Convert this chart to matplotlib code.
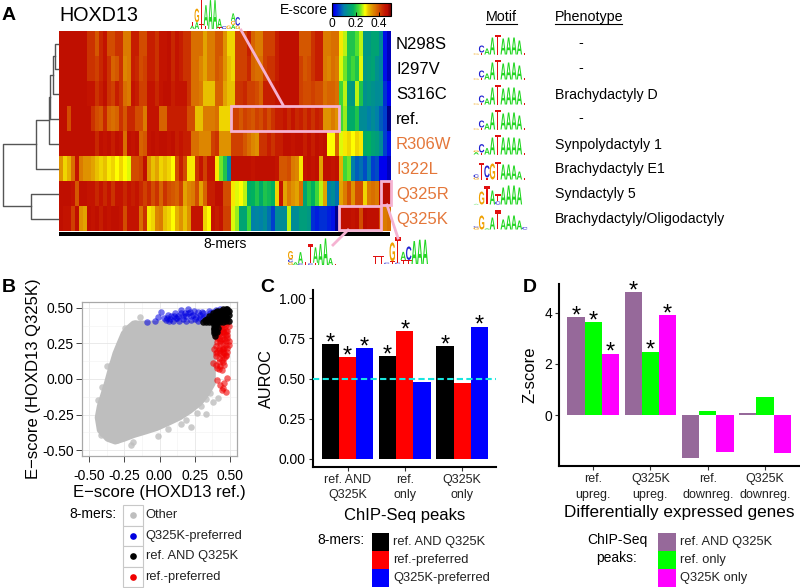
import numpy as np
import matplotlib
matplotlib.use('Agg')
import matplotlib.pyplot as plt
from matplotlib.colors import LinearSegmentedColormap
from matplotlib.patches import PathPatch, Rectangle
from matplotlib.path import Path
from matplotlib.textpath import TextPath
from matplotlib.font_manager import FontProperties
from matplotlib.transforms import Affine2D

plt.rcParams['font.family'] = ['Liberation Sans', 'DejaVu Sans']

W, H = 800, 588

# ---- panel A data: one list per variant, 83 binned 8-mer columns
row_names = ['N298S', 'I297V', 'S316C', 'ref.', 'R306W', 'I322L', 'Q325R', 'Q325K']
row_colors = ['black', 'black', 'black', 'black', '#e4773a', '#e4773a', '#e4773a', '#e4773a']
phenotypes = ['-', '-', 'Brachydactyly D', '-', 'Synpolydactyly 1', 'Brachydactyly E1',
              'Syndactyly 5', 'Brachydactyly/Oligodactyly']

n298s = [.46, .46, .46, .46, .46, .46, .46, .42, .42, .39,
         .43, .45, .40, .40, .42, .42, .36, .36, .44, .44,
         .40, .40, .44, .44, .42, .45, .45, .46, .43, .45,
         .44, .42, .42, .37, .37, .37, .33, .36, .36, .39,
         .39, .34, .30, .30, .41, .41, .41, .44, .38, .36,
         .36, .41, .41, .41, .44, .46, .46, .46, .46, .46,
         .39, .39, .39, .42, .44, .44, .36, .36, .37, .37,
         .29, .26, .20, .20, .23, .26, .14, .14, .16, .16,
         .12, .03, .01]
i297v = [.46, .46, .46, .46, .46, .46, .46, .42, .42, .41,
         .43, .45, .42, .38, .39, .42, .35, .36, .44, .43,
         .40, .41, .44, .44, .42, .45, .45, .46, .43, .45,
         .44, .42, .42, .37, .37, .35, .33, .36, .36, .39,
         .38, .34, .31, .30, .41, .41, .41, .43, .38, .37,
         .37, .41, .42, .42, .44, .46, .46, .46, .46, .46,
         .41, .39, .40, .42, .44, .44, .36, .35, .37, .36,
         .27, .24, .20, .22, .20, .27, .14, .15, .16, .13,
         .11, .03, .01]
s316c = [.46, .46, .46, .46, .46, .46, .46, .45, .45, .42,
         .44, .46, .42, .41, .44, .42, .37, .36, .45, .44,
         .41, .41, .45, .45, .43, .45, .46, .46, .44, .45,
         .45, .45, .42, .37, .37, .36, .31, .31, .31, .38,
         .38, .33, .31, .31, .42, .42, .43, .41, .41, .40,
         .38, .44, .44, .44, .45, .46, .46, .46, .46, .46,
         .41, .40, .40, .41, .40, .40, .37, .38, .38, .37,
         .22, .26, .15, .14, .26, .20, .13, .14, .13, .12,
         .12, .05, .02]
ref = [.46, .46, .40, .46, .46, .46, .46, .46, .42, .40,
       .39, .43, .38, .37, .38, .42, .39, .43, .43, .40,
       .40, .36, .45, .45, .45, .38, .38, .44, .44, .44,
       .44, .44, .40, .40, .31, .31, .36, .36, .36, .37,
       .30, .30, .30, .41, .41, .39, .41, .40, .39, .41,
       .40, .42, .40, .42, .44, .44, .45, .43, .45, .43,
       .44, .42, .44, .42, .44, .43, .34, .34, .36, .34,
       .22, .25, .17, .17, .20, .12, .12, .10, .12, .10,
       .08, .06, .00]
r306w = [.46, .46, .46, .46, .46, .46, .46, .46, .46, .43,
         .46, .45, .46, .44, .46, .45, .37, .46, .45, .46,
         .38, .39, .45, .46, .45, .46, .46, .45, .46, .44,
         .45, .44, .44, .37, .37, .35, .35, .35, .41, .42,
         .34, .34, .34, .41, .41, .41, .39, .37, .35, .34,
         .42, .42, .44, .42, .44, .44, .46, .46, .45, .46,
         .46, .44, .46, .44, .46, .45, .46, .28, .28, .38,
         .27, .29, .30, .28, .30, .29, .17, .18, .16, .15,
         .12, .06, .03]
i322l = [.34, .30, .32, .37, .45, .36, .34, .34, .33, .31,
         .30, .31, .29, .30, .28, .30, .28, .27, .40, .40,
         .41, .46, .34, .31, .33, .30, .31, .30, .28, .40,
         .44, .40, .29, .29, .42, .45, .41, .45, .45, .29,
         .24, .20, .10, .46, .46, .46, .46, .46, .45, .46,
         .46, .46, .46, .46, .45, .39, .39, .40, .36, .35,
         .29, .45, .46, .45, .46, .33, .46, .46, .45, .46,
         .32, .22, .24, .10, .08, .09, .07, .10, .06, .07,
         .02, .02, .01]
q325r = [.46, .46, .46, .45, .39, .46, .46, .45, .45, .43,
         .45, .43, .45, .42, .45, .45, .43, .45, .44, .45,
         .43, .41, .43, .40, .42, .38, .42, .40, .39, .38,
         .41, .33, .35, .36, .40, .33, .38, .44, .44, .46,
         .46, .40, .40, .29, .27, .28, .26, .17, .18, .20,
         .17, .20, .19, .18, .30, .45, .33, .36, .34, .33,
         .37, .16, .20, .18, .22, .26, .33, .10, .12, .09,
         .33, .36, .40, .34, .40, .40, .30, .36, .37, .36,
         .47, .47, .47]
q325k = [.46, .45, .45, .41, .46, .34, .33, .46, .45, .46,
         .44, .46, .45, .46, .46, .45, .40, .45, .45, .45,
         .37, .42, .29, .30, .35, .36, .31, .30, .28, .32,
         .34, .31, .34, .45, .45, .45, .30, .28, .45, .44,
         .45, .41, .41, .27, .25, .16, .16, .22, .10, .11,
         .10, .12, .09, .06, .12, .12, .12, .26, .12, .12,
         .15, .15, .14, .05, .04, .05, .05, .04, .03, .00,
         .46, .46, .46, .45, .46, .40, .47, .46, .46, .46,
         .40, .36, .37]
cbar_ticks = [0, 0.2, 0.4]
cbar_labels = ['0', '0.2', '0.4']

# dendrogram merges: (merge position in px, child, child)
# child >= 0 is a row, child < 0 is an earlier merge (-1 is the first one)
dendro_links = [(55, 0, 1), (53, -1, 2), (50, -2, 3), (49, -3, 4), (36, -4, 5), (31, 6, 7), (3, -5, -6)]

# logos: columns of (letter, height), bottom to top
L_WT = [[('G', .05)], [('T', .1), ('C', .35)], [('A', .3)], [('A', .85)], [('T', .25), ('T', .75)],
        [('A', .8)], [('A', .85)], [('A', .85)], [('A', .7)], [('T', .08)]]
L_R306W = [[('A', .12), ('G', .08)], [('T', .1), ('C', .42)], [('A', .32)], [('A', .85)], [('T', .25), ('T', .75)],
           [('A', .85)], [('A', .85)], [('A', .85)], [('A', .8)], [('T', .06)]]
L_I322L = [[('G', .1), ('C', .15)], [('T', .85)], [('T', .1), ('C', .6)], [('G', .8)], [('T', .9)],
           [('A', .75)], [('A', .75)], [('A', .7)], [('A', .4)], [('T', .06)]]
L_Q325R = [[('A', .03)], [('G', .65)], [('T', .9)], [('A', .7)], [('C', .15), ('T', .35)],
           [('A', .85)], [('A', .95)], [('A', .95)], [('A', .85)], [('T', .02)]]
L_Q325K = [[('G', .1), ('C', .06)], [('G', .7)], [('A', .06)], [('A', .6)], [('T', .95)],
           [('A', .5)], [('A', .7)], [('A', .7)], [('A', .45)], [('C', .12)]]
motif_logos = [L_WT, L_WT, L_WT, L_WT, L_R306W, L_I322L, L_Q325R, L_Q325K]

L_TOP = [[('A', .1), ('T', .12)], [('A', .2), ('G', .4)], [('T', .15), ('T', .85)], [('T', .1), ('A', .6)],
         [('A', .85)], [('A', .85)], [('T', .05), ('A', .25)], [('C', .08)], [('G', .1)],
         [('A', .12), ('G', .12), ('A', .22)], [('G', .1), ('C', .25)]]
L_BOT1 = [[('G', .1), ('C', .1), ('G', .3)], [('A', .1)], [('C', .06), ('A', .4)], [('T', .12)], [('C', .06), ('T', .7)],
          [('T', .08), ('A', .55)], [('A', .75)], [('A', .95)], [('A', .25)], [('T', .05)]]
L_BOT2 = [[('T', .3)], [('T', .3)], [('C', .05)], [('T', .1), ('G', .7)], [('C', .05), ('T', .95)],
          [('T', .15), ('A', .3)], [('T', .15), ('C', .5)], [('A', .85)], [('A', .9)], [('A', .9)]]

# ---- panel B data
cloud_x = [-.185, -.10, .10, .38, .38, .38, .34, .286, .215, .145, .06, -.02, -.10, -.185, -.25, -.314, -.37,
           -.425, -.44, -.425, -.40, -.375, -.35, -.314, -.285, -.255, -.22]
cloud_y = [.39, .39, .39, .39, .085, -.03, -.10, -.17, -.225, -.27, -.31, -.345, -.37, -.395, -.42, -.44, -.42,
           -.36, -.27, -.19, -.11, -.03, .06, .18, .25, .32, .36]
other_x = [-.373, -.408, -.436, -.42, -.413, -.244, -.173, -.138, -.204, -.189, -.008, .227, .333, .267,
           .298, .38, .415, .156, -.29, -.26, -.361, -.302, -.39, -.345, -.41, -.19, -.10, .06, .19, .33, .36]
other_y = [.092, -.055, -.144, -.231, -.395, .355, .39, .437, -.465, -.441, -.402, -.336, -.242, -.238,
           -.191, -.16, -.13, -.313, .238, .238, .015, -.43, -.30, .10, -.38, .37, .385, -.35, -.29, -.14, -.10]
blue_x = [-.088, -.032, .008, -.013, .044, .074, .098, .121, .062, .109, .156, .18, .215, .262, .227, .286,
          .333, .38, .404, .427, .309, .204, .05, .085, .13, .15, .17, .19, .24, .25, .27, .30, .33, .14,
          .12, .165, .20, .225, .275, .35, .10, .03, .36, .245, .185, .07, .29, .31]
blue_y = [.40, .41, .472, .437, .413, .418, .406, .425, .448, .46, .484, .46, .472, .437, .413, .425, .413,
          .472, .484, .488, .46, .488, .43, .44, .44, .46, .42, .44, .45, .42, .47, .47, .44, .41, .43,
          .44, .465, .44, .41, .48, .44, .43, .46, .48, .41, .41, .45, .43]
black_x = [.31, .33, .35, .37, .39, .41, .43, .45, .47, .49, .32, .34, .36, .38, .40, .42, .44, .46, .48, .35,
           .37, .39, .41, .43, .45, .47, .49, .48, .46, .44, .42, .40, .39, .40, .39, .40, .41, .385, .395,
           .43, .45, .47, .38, .40, .42, .44, .46, .48, .41, .43, .45, .47, .49, .39, .415, .405, .385]
black_y = [.40, .40, .40, .40, .40, .40, .40, .40, .41, .41, .415, .42, .42, .42, .42, .42, .42, .42, .43, .44,
           .44, .44, .44, .44, .44, .44, .45, .49, .48, .48, .47, .47, .38, .37, .35, .34, .39, .32, .30,
           .46, .46, .46, .46, .46, .46, .46, .47, .47, .48, .48, .49, .49, .48, .36, .36, .33, .34]
red_x = [.44, .46, .48, .43, .45, .47, .42, .44, .46, .48, .41, .43, .45, .47, .40, .42, .44, .46, .48, .49,
         .41, .43, .45, .47, .40, .42, .44, .46, .48, .39, .41, .43, .45, .47, .40, .42, .44, .38, .40, .43,
         .45, .46, .42, .44, .47, .41, .43, .46, .48, .45, .44, .47, .43, .45, .47, .49, .42, .44, .46, .48,
         .41, .43, .45, .47, .49, .42, .44, .46, .40, .42, .48, .41, .46]
red_y = [.43, .42, .40, .40, .38, .38, .36, .35, .36, .34, .33, .32, .33, .31, .30, .29, .30, .28, .29, .24,
         .26, .25, .25, .24, .23, .22, .21, .22, .19, .21, .19, .18, .19, .17, .16, .15, .13, .11, .10, .09,
         .12, .15, .07, .06, .16, -.01, -.04, -.03, .01, -.06, -.08, -.09, .37, .34, .34, .37, .32, .28, .32,
         .31, .29, .27, .21, .27, .27, .20, .17, .18, .18, .12, .22, .08, .10]
b_ticks = [-.5, -.25, 0, .25, .5]
b_ticklabels = ['-0.50', '-0.25', '0.00', '0.25', '0.50']
b_legend_labels = ['Other', 'Q325K-preferred', 'ref. AND Q325K', 'ref.-preferred']
b_legend_colors = ['#bebebe', '#0000e0', 'black', '#f00000']

# ---- panel C data
c_groups = ['ref. AND\nQ325K', 'ref.\nonly', 'Q325K\nonly']
c_both = [.716, .64, .703]
c_ref = [.633, .797, .473]
c_q325k = [.69, .481, .824]
c_sig = [[1, 1, 1], [1, 1, 0], [1, 0, 1]]
c_labels = ['ref. AND Q325K', 'ref.-preferred', 'Q325K-preferred']
c_colors = ['black', '#ff0000', '#0000ff']

# ---- panel D data
d_groups = ['ref.\nupreg.', 'Q325K\nupreg.', 'ref.\ndownreg.', 'Q325K\ndownreg.']
d_both = [3.82, 4.81, -1.65, .08]
d_ref = [3.64, 2.48, .18, .71]
d_q325k = [2.40, 3.91, -1.43, -1.49]
d_sig = [[1, 1, 1], [1, 1, 1], [0, 0, 0], [0, 0, 0]]
d_labels = ['ref. AND Q325K', 'ref. only', 'Q325K only']
d_colors = ['#96699a', '#00ff00', '#ff00ff']

escore = LinearSegmentedColormap.from_list('escore', [
    (0.0, '#00008c'), (0.04, '#0000f0'), (0.2, '#0080a8'), (0.36, '#00b060'), (0.46, '#50e030'),
    (0.56, '#ffff00'), (0.62, '#e8c000'), (0.68, '#e09400'), (0.76, '#d86400'), (0.84, '#cc3400'),
    (0.90, '#c41400'), (0.94, '#bc0c00'), (1.0, '#700000')])

PINK = '#f5b3d2'
LOGO_COLORS = {'A': '#22d622', 'C': '#2020d0', 'G': '#f0a000', 'T': '#e01010'}
logo_font = FontProperties(family='Liberation Sans', weight='bold')


def axes_px(left, top, right, bottom):
    return fig.add_axes([left / W, 1 - bottom / H, (right - left) / W, (bottom - top) / H])


def draw_logo(ax, logo, x0, base, width, height):
    cw = width / len(logo)
    for i, col in enumerate(logo):
        y = base
        for letter, frac in col:
            tp = TextPath((0, 0), letter, size=1, prop=logo_font)
            bb = tp.get_extents()
            h = frac * height
            tr = (Affine2D().translate(-bb.x0, -bb.y0).scale(cw / bb.width, -h / bb.height)
                  .translate(x0 + i * cw, y))
            ax.add_patch(PathPatch(tr.transform_path(Path(tp.vertices, tp.codes)),
                                   fc=LOGO_COLORS[letter], ec='none', clip_on=True))
            y -= h


def grouped_bars(ax, groups, series, colors, sig):
    x = np.arange(1, len(groups) + 1)
    bw = 0.3
    for j, (vals, col) in enumerate(zip(series, colors)):
        ax.bar(x + (j - 1) * bw, vals, bw, color=col, linewidth=0)
        for k, v in enumerate(vals):
            if sig[k][j]:
                ax.annotate('*', (x[k] + (j - 1) * bw, v), xytext=(0, -3.8), textcoords='offset points',
                            ha='center', va='baseline', fontsize=17, color='black', annotation_clip=False)
    ax.set_xticks(x)
    ax.set_xticklabels(groups, fontsize=9, linespacing=1.4, color='#222222')
    for s in ['top', 'right']:
        ax.spines[s].set_visible(False)
    for s in ['left', 'bottom']:
        ax.spines[s].set_linewidth(1.5)
    ax.tick_params(axis='both', length=3, width=0.8, color='#333333', pad=2)


fig = plt.figure(figsize=(W / 100, H / 100), dpi=100)

# overlay in pixel coordinates for annotations
ov = fig.add_axes([0, 0, 1, 1], zorder=10)
ov.set_xlim(0, W)
ov.set_ylim(H, 0)
ov.axis('off')
ov.patch.set_alpha(0)

# ---- A: heatmap
ax_a = axes_px(59, 31, 391, 231)
heat = np.array([n298s, i297v, s316c, ref, r306w, i322l, q325r, q325k])
im = ax_a.imshow(heat, cmap=escore, vmin=0, vmax=0.5, aspect='auto', interpolation='nearest')
ax_a.axis('off')

for i, name in enumerate(row_names):
    yc = H - ax_a.transData.transform((0, i))[1]
    ov.text(396, yc + 1, name, fontsize=12, color=row_colors[i], va='center', ha='left')
    ph = phenotypes[i]
    if ph == '-':
        ov.text(581, yc, ph, fontsize=10.2, va='center', ha='center')
    else:
        ov.text(555, yc + 1, ph, fontsize=10.2, va='center', ha='left')
    draw_logo(ov, motif_logos[i], 473.5, yc + 11, 54, 20)

# dendrogram
merged = []
for xm, a, b in dendro_links:
    ends = []
    for child in (a, b):
        if child >= 0:
            ends.append((58, 31 + 25 * (child + .5)))
        else:
            ends.append(merged[-child - 1])
    ov.plot([ends[0][0], xm, xm, ends[1][0]], [ends[0][1], ends[0][1], ends[1][1], ends[1][1]],
            color='#555555', lw=1)
    merged.append((xm, (ends[0][1] + ends[1][1]) / 2))

ov.text(59, 15.5, 'HOXD13', fontsize=14.2, va='center', ha='left')
ov.text(2, 15.5, 'A', fontsize=14, fontweight='bold', va='center')
ov.add_patch(Rectangle((59, 232), 331, 3.5, fc='black', ec='none'))
ov.text(225, 244, '8-mers', fontsize=10, ha='center', va='center')

# pink boxes + connector lines
for (x0, y0, x1, y1) in [(231, 106, 339, 130.5), (338.5, 205.5, 381, 229.5), (381, 180.5, 390.5, 205)]:
    ov.add_patch(Rectangle((x0, y0), x1 - x0, y1 - y0, fc='none', ec=PINK, lw=2))
ov.plot([241, 283], [30, 105], color=PINK, lw=2)
ov.plot([348, 333], [230, 245], color=PINK, lw=2)
ov.plot([387, 398], [205, 238], color=PINK, lw=2)
draw_logo(ov, L_TOP, 190, 29, 50, 34)
draw_logo(ov, L_BOT1, 288, 265, 50, 28)
draw_logo(ov, L_BOT2, 373, 264, 55, 27)

ov.text(501, 17, 'Motif', fontsize=10.3, ha='center', va='center')
ov.plot([486, 517], [23.5, 23.5], color='black', lw=0.8)
ov.text(555, 17, 'Phenotype', fontsize=10.3, ha='left', va='center')
ov.plot([555, 622], [23.5, 23.5], color='black', lw=0.8)

# colorbar
cax = axes_px(332, 3, 391, 15.5)
cb = fig.colorbar(im, cax=cax, orientation='horizontal')
cb.set_ticks(cbar_ticks)
cb.set_ticklabels(cbar_labels)
cb.ax.tick_params(labelsize=8.6, length=3, width=0.7, direction='in', pad=2, color='black')
cb.outline.set_linewidth(0.8)
ov.text(328, 10, 'E-score', fontsize=10, ha='right', va='center')

# ---- B: scatter
ax_b = axes_px(82, 302, 237, 456)
ax_b.set_xlim(-.55, .55)
ax_b.set_ylim(-.54, .54)
ax_b.set_axisbelow(True)
ax_b.set_xticks(b_ticks)
ax_b.set_xticklabels(b_ticklabels, fontsize=10)
ax_b.set_yticks(b_ticks)
ax_b.set_yticklabels(b_ticklabels, fontsize=10)
ax_b.set_xticks([-.375, -.125, .125, .375], minor=True)
ax_b.set_yticks([-.375, -.125, .125, .375], minor=True)
ax_b.grid(True, which='major', color='#e6e6e6', lw=0.6)
ax_b.grid(True, which='minor', color='#f2f2f2', lw=0.4)
ax_b.tick_params(which='minor', length=0)
ax_b.tick_params(which='major', length=4, width=0.7, color='#444444')
ax_b.tick_params(axis='x', which='major', pad=5)
ax_b.tick_params(axis='y', which='major', pad=2)
for s in ax_b.spines.values():
    s.set_color('#a8a8a8')
    s.set_linewidth(0.9)
ax_b.fill(cloud_x, cloud_y, color='#bebebe', lw=4, joinstyle='round', zorder=2)
ax_b.scatter(other_x, other_y, s=22, color='#bebebe', alpha=.8, lw=0, zorder=2)
ax_b.scatter(blue_x, blue_y, s=22, color='#0000e0', alpha=.55, lw=0, zorder=3)
ax_b.scatter(red_x, red_y, s=22, color='#f00000', alpha=.6, lw=0, zorder=3)
ax_b.scatter(black_x, black_y, s=22, color='black', alpha=.9, lw=0, zorder=4)
ax_b.set_xlabel('E\u2212score (HOXD13 ref.)', fontsize=12, labelpad=2)
ax_b.set_ylabel('E\u2212score (HOXD13 Q325K)', fontsize=12, labelpad=1)
ov.text(2, 287, 'B', fontsize=14, fontweight='bold', va='center')

ov.text(93, 513.5, '8-mers:', fontsize=10, ha='center', va='center')
for i, (lab, col) in enumerate(zip(b_legend_labels, b_legend_colors)):
    y0 = 505 + 20.5 * i
    ov.add_patch(Rectangle((122.5, y0), 20, 20.5, fc='white', ec='#c8c8c8', lw=0.8))
    ov.plot([132.5], [y0 + 10], 'o', color=col, ms=4.8, mew=0)
    ov.text(145.5, y0 + 10.5, lab, fontsize=9.3, va='center', color='#222222')

# ---- C: bars
ax_c = axes_px(312.7, 290, 496, 466.7)
grouped_bars(ax_c, c_groups, [c_both, c_ref, c_q325k], c_colors, c_sig)
ax_c.set_xlim(0.393, 3.59)
ax_c.set_ylim((459 - 466.7) / 160.7, (459 - 290) / 160.7)
ax_c.set_yticks([0, .25, .5, .75, 1])
ax_c.set_yticklabels(['0.00', '0.25', '0.50', '0.75', '1.00'], fontsize=10)
ax_c.axhline(0.5, color='#19e6e0', lw=1.5, ls=(0, (3, 1.6)), zorder=5)
ax_c.set_xlabel('ChIP-Seq peaks', fontsize=12, labelpad=5)
ax_c.set_ylabel('AUROC', fontsize=11.7, labelpad=3)
ov.text(260, 287, 'C', fontsize=14, fontweight='bold', va='center')

ov.text(341, 540, '8-mers:', fontsize=10, ha='center', va='center')
for i, (lab, col) in enumerate(zip(c_labels, c_colors)):
    y0 = 532.7 + 18 * i
    ov.add_patch(Rectangle((371.7, y0), 17.6, 18, fc=col, ec='none'))
    ov.text(393.3, y0 + 9.5, lab, fontsize=9.3, va='center', color='#222222')

# ---- D: bars
ax_d = axes_px(559, 284, 800, 466)
grouped_bars(ax_d, d_groups, [d_both, d_ref, d_q325k], d_colors, d_sig)
ax_d.set_xlim(0.405, 4.61)
ax_d.set_ylim(-1.98, 5.12)
ax_d.set_yticks([0, 2, 4])
ax_d.tick_params(axis='y', labelsize=10)
ax_d.set_xlabel('Differentially expressed genes', fontsize=12.3, labelpad=3)
ax_d.set_ylabel('Z-score', fontsize=12, labelpad=5)
ov.text(523, 287, 'D', fontsize=14, fontweight='bold', va='center')

ov.text(617, 549, 'ChIP-Seq\npeaks:', fontsize=10, ha='center', va='center', linespacing=1.35)
for i, (lab, col) in enumerate(zip(d_labels, d_colors)):
    y0 = 532.7 + 18 * i
    ov.add_patch(Rectangle((657.7, y0), 18, 18, fc=col, ec='none'))
    ov.text(680, y0 + 9.5, lab, fontsize=9.3, va='center', color='#222222')

fig.savefig('out.png', dpi=100)
